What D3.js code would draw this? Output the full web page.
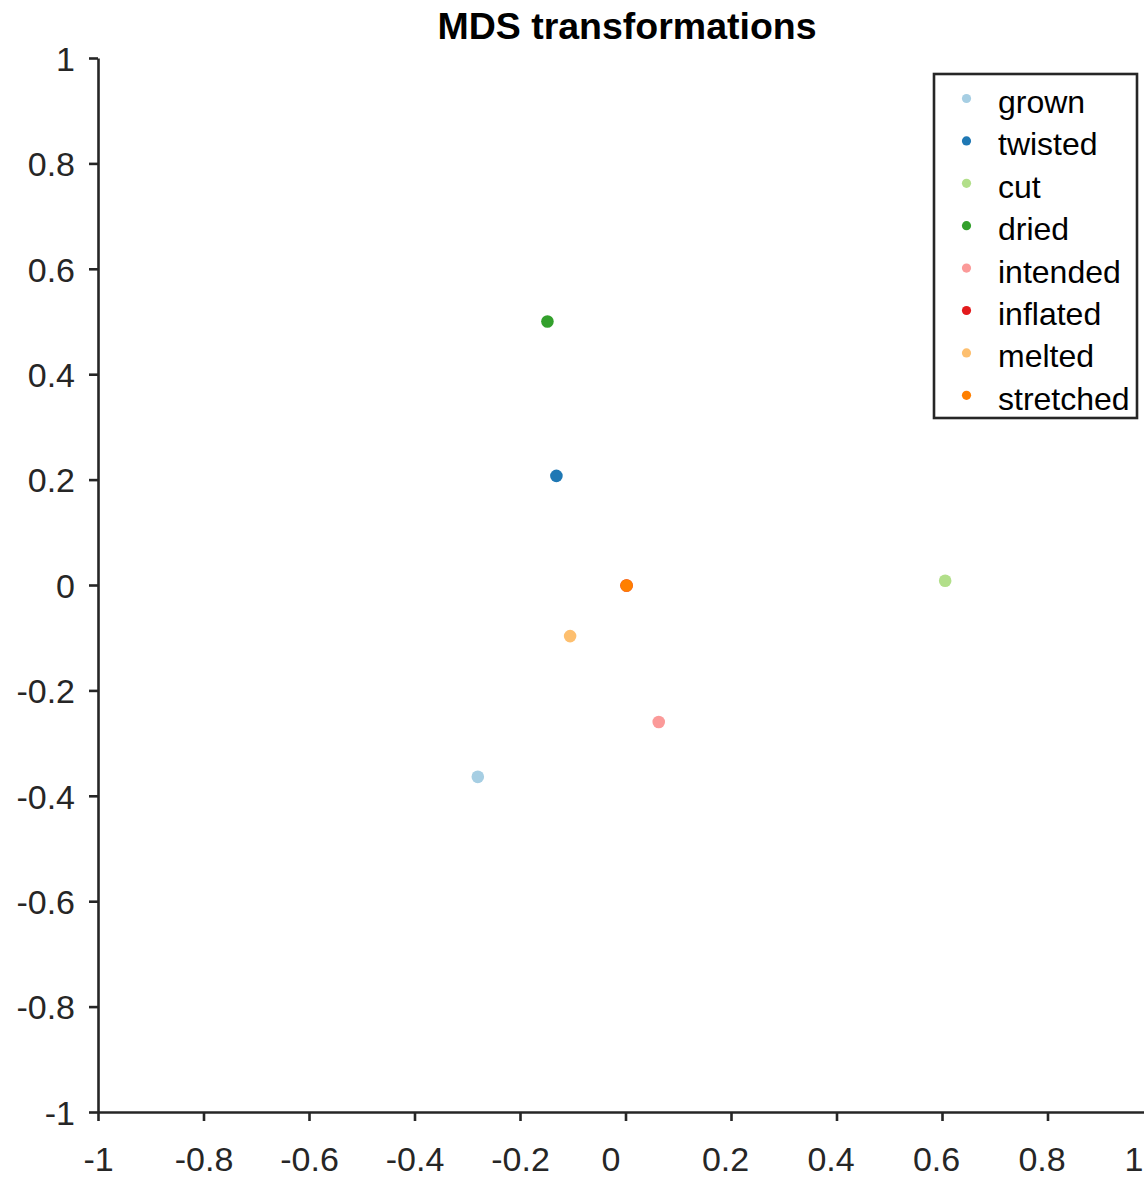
<!DOCTYPE html>
<html>
<head>
<meta charset="utf-8">
<script src="https://cdn.jsdelivr.net/npm/d3@7"></script>
<style>
  html, body { margin: 0; padding: 0; background: #fff; }
  svg { display: block; font-family: "Liberation Sans", Arial, Helvetica, sans-serif; }
</style>
</head>
<body>
<svg id="chart" width="1144" height="1178"></svg>
<script>
// MDS coordinates of each transformation
const labels = ["grown", "twisted", "cut", "dried", "intended", "inflated", "melted", "stretched"];
const xValues = [-0.280, -0.131, 0.606, -0.148, 0.063, 0.002, -0.105, 0.002];
const yValues = [-0.364, 0.207, 0.008, 0.500, -0.260, -0.001, -0.097, -0.001];
const colors = ["#a6cee3", "#1f78b4", "#b2df8a", "#33a02c", "#fb9a99", "#e31a1c", "#fdbf6f", "#ff7f00"];
const tickValues = [-1, -0.8, -0.6, -0.4, -0.2, 0, 0.2, 0.4, 0.6, 0.8, 1];

const points = labels.map((name, i) => ({ name, x: xValues[i], y: yValues[i], color: colors[i] }));

const svg = d3.select("#chart");
const axisColor = "#262626";

const x = d3.scaleLinear().domain([-1, 1]).range([98, 1153]);
const y = d3.scaleLinear().domain([-1, 1]).range([1112, 58]);

// plain hyphen-minus labels
const fmt = d => String(d);

// x axis
const gx = svg.append("g")
  .attr("transform", `translate(0,${y(-1)})`)
  .call(d3.axisBottom(x).tickValues(tickValues).tickFormat(fmt).tickSize(9).tickSizeOuter(0).tickPadding(26));

// y axis
const gy = svg.append("g")
  .attr("transform", `translate(${x(-1)},0)`)
  .call(d3.axisLeft(y).tickValues(tickValues).tickFormat(fmt).tickSize(9).tickSizeOuter(0).tickPadding(14));

[gx, gy].forEach(g => {
  g.select(".domain").attr("stroke", axisColor).attr("stroke-width", 2.6);
  g.selectAll(".tick line").attr("stroke", axisColor).attr("stroke-width", 2.6);
  g.selectAll(".tick text").attr("fill", axisColor).attr("font-size", 34);
});
gy.selectAll(".tick text").attr("dy", "0.36em");
gx.selectAll(".tick text").attr("dy", "0.70em")
  .attr("dx", d => (d === 0 ? -15 : d > 0 ? -6 : 0));
// keep the last x label inside the page edge
gx.selectAll(".tick text").filter(d => d === 1).attr("text-anchor", "end").attr("dx", -10);

// points
svg.append("g").selectAll("circle")
  .data(points)
  .join("circle")
  .attr("cx", d => x(d.x))
  .attr("cy", d => y(d.y))
  .attr("r", 6.3)
  .attr("fill", d => d.color);

// title
svg.append("text")
  .attr("x", 627)
  .attr("y", 39)
  .attr("text-anchor", "middle")
  .attr("font-size", 37.5)
  .attr("font-weight", "bold")
  .attr("fill", "#000")
  .text("MDS transformations");

// legend
const legend = svg.append("g");
legend.append("rect")
  .attr("x", 934)
  .attr("y", 74)
  .attr("width", 203)
  .attr("height", 344)
  .attr("fill", "#fff")
  .attr("stroke", axisColor)
  .attr("stroke-width", 2.6);

const rowStep = 42.4;
const rows = legend.selectAll("g.row")
  .data(points)
  .join("g")
  .attr("class", "row")
  .attr("transform", (d, i) => `translate(0,${98.5 + i * rowStep})`);

rows.append("circle")
  .attr("cx", 966.5)
  .attr("cy", 0)
  .attr("r", 4.6)
  .attr("fill", d => d.color);

rows.append("text")
  .attr("x", 998)
  .attr("y", 3)
  .attr("dy", "0.36em")
  .attr("font-size", 32)
  .attr("fill", "#000")
  .text(d => d.name);
</script>
</body>
</html>
